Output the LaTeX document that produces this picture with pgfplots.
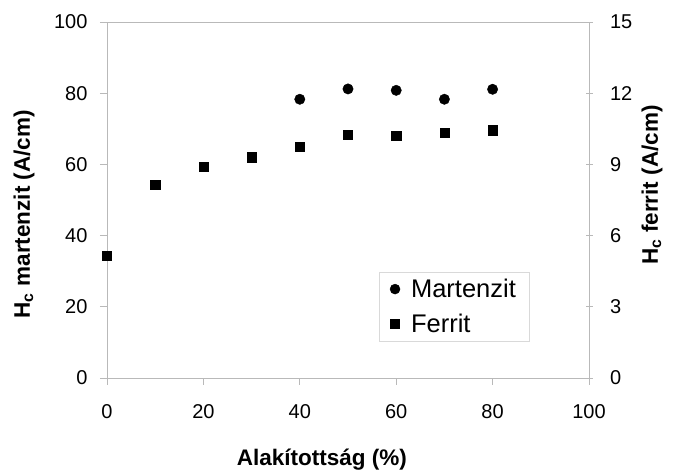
\documentclass[border=0pt]{standalone}
\usepackage{fontspec}
\setmainfont{Liberation Sans}
\usepackage{pgfplots}
\pgfplotsset{compat=1.18}
\definecolor{axgray}{RGB}{185,185,185}
\begin{document}
\begin{tikzpicture}
\pgfplotsset{
  every axis/.append style={
    scale only axis, width=482pt, height=356pt,
    xmin=0, xmax=100,
    axis line style={draw=axgray, line width=0.8pt},
    every tick/.style={draw=axgray, line width=0.8pt},
    major tick length=7pt,
    /pgf/number format/assume math mode=true,
    tick label style={font=\fontsize{20}{22}\selectfont},
    label style={font=\bfseries\fontsize{22.5}{26}\selectfont},
  }
}
\begin{axis}[name=ax, at={(0,0)}, anchor=south west,
  ymin=0, ymax=100, ytick={0,20,...,100}, xtick={0,20,...,100},
  xtick pos=lower, ytick pos=left, tick align=outside,
  yticklabel style={xshift=-9pt},
  xticklabel style={yshift=-16pt},
  xlabel={Alakítottság (\%)},
  ylabel={H\textsubscript{c} martenzit (A/cm)},
  xlabel style={at={(axis description cs:0.446,-0.228)}, anchor=center},
  ylabel style={at={(axis description cs:-0.172,0.46)}, anchor=center},
]
\addplot[only marks, mark=*, mark size=5.2pt, black] coordinates {
  (40,78.3) (50,81.2) (60,80.8) (70,78.3) (80,81.1)
};
\end{axis}
\begin{axis}[at={(0,0)}, anchor=south west,
  ymin=0, ymax=15, ytick={0,3,...,15},
  hide x axis, axis y line*=right, tick align=center,
  yticklabel style={xshift=14pt},
  ylabel={H\textsubscript{c} ferrit (A/cm)},
  ylabel style={at={(axis description cs:1.131,0.542)}, anchor=center},
  legend style={at={(rel axis cs:0.564,0.298)}, anchor=north west,
    draw=black!15, font=\fontsize{25.5}{29}\selectfont, row sep=11pt,
    inner xsep=11pt, inner ysep=5pt,
    /tikz/every odd column/.append style={column sep=9pt}},
  legend cell align=left,
]
\addlegendimage{only marks, mark=*, mark size=5pt, black}
\addlegendentry{Martenzit}
\addplot[only marks, mark=square*, mark size=4.6pt, black] coordinates {
  (0,5.15) (10,8.13) (20,8.9) (30,9.3) (40,9.76) (50,10.24) (60,10.2) (70,10.32) (80,10.44)
};
\addlegendentry{Ferrit}
\end{axis}
\pgfresetboundingbox
\path (ax.south west) ++(-107pt,-96pt) rectangle ++(673pt,474pt);
\end{tikzpicture}
\end{document}
